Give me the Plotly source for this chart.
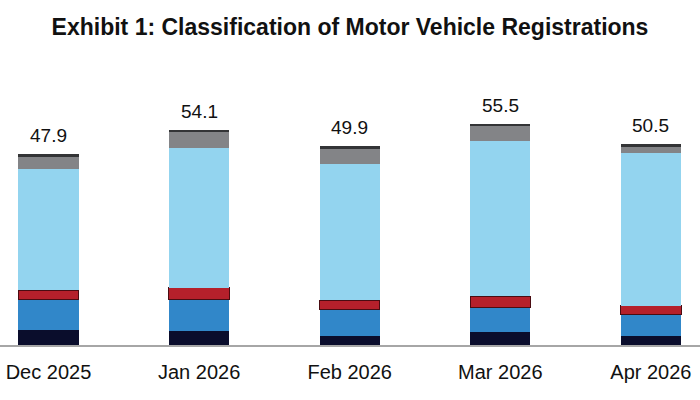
import plotly.graph_objects as go

months = ["Dec 2025", "Jan 2026", "Feb 2026", "Mar 2026", "Apr 2026"]
totals = [47.9, 54.1, 49.9, 55.5, 50.5]

seg_navy = [3.8, 3.6, 2.35, 3.2, 2.3]
seg_blue = [7.7, 7.9, 6.6, 6.3, 5.4]
seg_red = [2.2, 2.9, 2.35, 2.7, 2.1]
seg_light = [30.6, 35.1, 34.1, 39.1, 38.4]
seg_gray = [2.9, 3.9, 3.8, 3.6, 1.5]
seg_dark = [0.7, 0.7, 0.7, 0.6, 0.8]

series = [
    ("Navy", seg_navy, "#0a0d2c", None),
    ("Blue", seg_blue, "#3187c9", None),
    ("Red", seg_red, "#b5202b", "#4a0c12"),
    ("Light blue", seg_light, "#93d4ef", None),
    ("Gray", seg_gray, "#838487", None),
    ("Dark", seg_dark, "#333436", None),
]

FONT = "Liberation Sans, Arial, sans-serif"

fig = go.Figure()
for name, vals, col, lc in series:
    fig.add_trace(go.Bar(
        x=months, y=vals, name=name, width=0.4,
        marker=dict(color=col, line=dict(color=lc if lc else col, width=1 if lc else 0)),
        hoverinfo="skip",
    ))

for m, t in zip(months, totals):
    fig.add_annotation(x=m, y=t, text=f"{t:.1f}", showarrow=False,
                       yanchor="bottom", yshift=6,
                       font=dict(family=FONT, size=19, color="#111111"))

fig.update_layout(
    barmode="stack",
    width=700, height=400,
    margin=dict(l=0, r=0, t=60, b=55),
    paper_bgcolor="white", plot_bgcolor="white",
    showlegend=False,
    title=dict(text="<b>Exhibit 1: Classification of Motor Vehicle Registrations</b>",
               x=0.5, xanchor="center", y=0.932, yanchor="middle", yref="container",
               font=dict(family=FONT, size=23, color="#111111")),
    xaxis=dict(range=[-0.322, 4.326], showgrid=False, showline=True, linecolor="#a6a6a6",
               linewidth=1.5, ticks="", ticklabelstandoff=8,
               tickfont=dict(family=FONT, size=20, color="#111111")),
    yaxis=dict(range=[0, 71.6], visible=False, showgrid=False),
)

fig.write_html("out.html")
